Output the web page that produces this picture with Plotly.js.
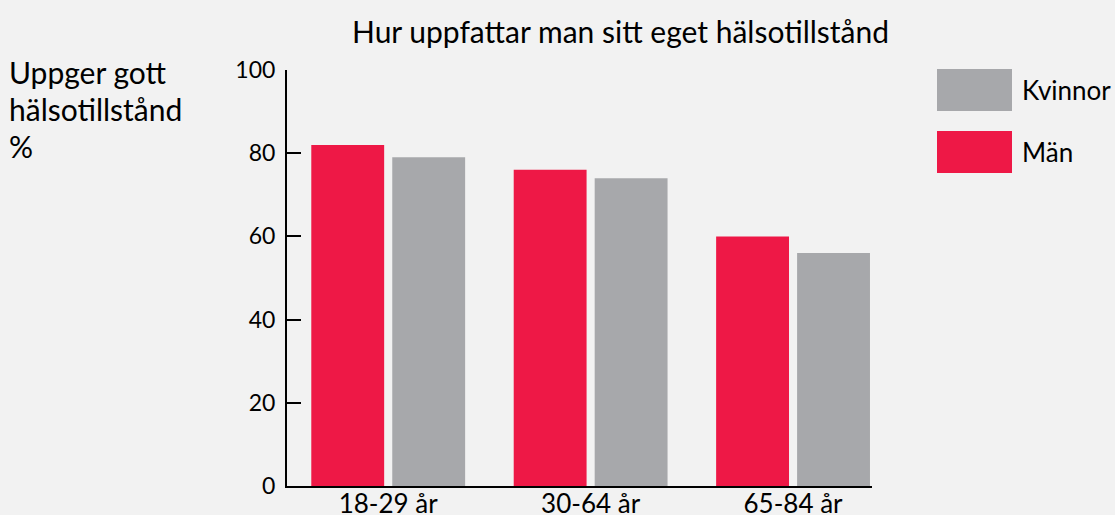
<!DOCTYPE html>
<html>
<head>
<meta charset="utf-8">
<script src="https://cdn.plot.ly/plotly-3.0.1.min.js"></script>
<style>html,body{margin:0;padding:0;background:#f2f2f2;}</style>
</head>
<body>
<div id="chart" style="width:1115px;height:515px;"></div>
<script>
const categories = ["18-29 år", "30-64 år", "65-84 år"];
const manValues = [82, 76, 60];
const kvinnorValues = [79, 74, 56];
const seriesNames = ["Män", "Kvinnor"];
const yTicks = [0, 20, 40, 60, 80, 100];
const yTitleLines = ["Uppger gott", "hälsotillstånd", "%"];

const W = 1115, H = 515;
const L = 287, R = 243, T = 70, B = 29;
const PW = W - L - R, PH = H - T - B;
const px = x => (x - L) / PW;
const py = y => (H - B - y) / PH;

const RED = "#ee1846", GRAY = "#a7a8ab";
const FONT = "Lato, 'Open Sans', sans-serif";

const traces = [
  {type: "bar", name: seriesNames[0], x: categories, y: manValues, marker: {color: RED}, hoverinfo: "x+y+name"},
  {type: "bar", name: seriesNames[1], x: categories, y: kvinnorValues, marker: {color: GRAY}, hoverinfo: "x+y+name"}
];

const annotations = yTitleLines.map((t, i) => ({
  text: t, xref: "paper", yref: "paper", x: px(7), y: py(72 + i * 37),
  xanchor: "left", yanchor: "middle", showarrow: false,
  font: {family: FONT, size: 30, color: "#000"}
}));

const legendItems = [
  {name: seriesNames[1], color: GRAY, top: 69},
  {name: seriesNames[0], color: RED, top: 131}
];
const shapes = [];
legendItems.forEach(it => {
  shapes.push({type: "rect", xref: "paper", yref: "paper",
    x0: px(937), x1: px(1012), y0: py(it.top), y1: py(it.top + 42),
    fillcolor: it.color, line: {width: 0}});
  annotations.push({text: it.name, xref: "paper", yref: "paper",
    x: px(1020), y: py(it.top + 21), xanchor: "left", yanchor: "middle",
    showarrow: false, font: {family: FONT, size: 26, color: "#000"}});
});

const layout = {
  width: W, height: H,
  paper_bgcolor: "#f2f2f2", plot_bgcolor: "#f2f2f2",
  margin: {l: L, r: R, t: T, b: B, pad: 0},
  showlegend: false,
  barmode: "group", bargap: 0.2, bargroupgap: 0.1,
  font: {family: FONT, color: "#000", size: 22},
  title: {text: "Hur uppfattar man sitt eget hälsotillstånd", font: {family: FONT, size: 30, color: "#000"},
    x: px(620.5), xanchor: "center", xref: "paper", y: 1 - 32 / H, yanchor: "middle"},
  xaxis: {type: "category", range: [-0.5, 2.39], showline: true, linecolor: "#000", linewidth: 2,
    ticks: "", showgrid: false, zeroline: false, tickfont: {family: FONT, size: 26, color: "#000"},
    ticklabelstandoff: -6, fixedrange: true},
  yaxis: {range: [0, 100], tickvals: yTicks, showline: true, linecolor: "#000", linewidth: 2,
    ticks: "inside", ticklen: 14, tickwidth: 2, tickcolor: "#000", showgrid: false, zeroline: false,
    tickfont: {family: FONT, size: 23, color: "#000"}, ticklabelstandoff: 5, fixedrange: true},
  annotations: annotations,
  shapes: shapes
};

Plotly.newPlot("chart", traces, layout, {displayModeBar: false, staticPlot: true});
</script>
</body>
</html>
